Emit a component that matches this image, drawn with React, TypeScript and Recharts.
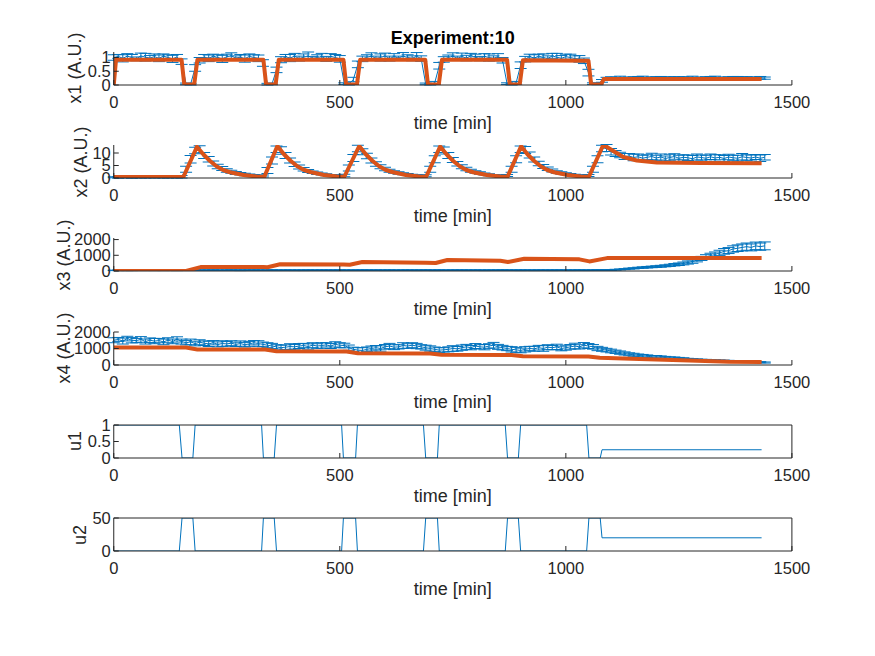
import React from 'react';
import { ComposedChart, Line, XAxis, YAxis, ErrorBar } from 'recharts';

const BLUE = '#0072BD';
const RED = '#D95319';
const AX = '#262626';
const FONT = '"Liberation Sans", Arial, Helvetica, sans-serif';

// measurement sample times [min]
const TIME = [
  0, 10, 20, 30, 40, 50, 60, 70, 80, 90,
  100, 110, 120, 130, 140, 150, 160, 170, 180, 190,
  200, 210, 220, 230, 240, 250, 260, 270, 280, 290,
  300, 310, 320, 330, 340, 350, 360, 370, 380, 390,
  400, 410, 420, 430, 440, 450, 460, 470, 480, 490,
  500, 510, 520, 530, 540, 550, 560, 570, 580, 590,
  600, 610, 620, 630, 640, 650, 660, 670, 680, 690,
  700, 710, 720, 730, 740, 750, 760, 770, 780, 790,
  800, 810, 820, 830, 840, 850, 860, 870, 880, 890,
  900, 910, 920, 930, 940, 950, 960, 970, 980, 990,
  1000, 1010, 1020, 1030, 1040, 1050, 1060, 1070, 1080, 1090,
  1100, 1110, 1120, 1130, 1140, 1150, 1160, 1170, 1180, 1190,
  1200, 1210, 1220, 1230, 1240, 1250, 1260, 1270, 1280, 1290,
  1300, 1310, 1320, 1330, 1340, 1350, 1360, 1370, 1380, 1390,
  1400, 1410, 1420, 1430, 1440,
];

const X1_MEAN = [
  1.00, 1.04, 0.97, 1.05, 1.00, 0.95, 1.06, 1.01, 0.98, 1.03,
  0.97, 1.05, 1.00, 0.95, 1.02, 0.85, 0.04, 0.03, 0.62, 0.90,
  1.02, 0.97, 1.05, 1.00, 0.95, 1.03, 1.06, 0.98, 1.01, 0.96,
  1.04, 1.00, 0.97, 0.80, 0.03, 0.04, 0.55, 0.92, 1.03, 0.98,
  1.05, 0.96, 1.01, 1.06, 0.97, 1.00, 1.03, 0.95, 1.04, 1.00,
  0.95, 0.05, 0.03, 0.20, 0.75, 0.95, 1.01, 1.05, 0.97, 1.00,
  1.06, 0.96, 1.03, 0.98, 1.05, 1.00, 0.97, 1.04, 0.96, 0.04,
  0.03, 0.08, 0.70, 0.93, 1.00, 1.05, 0.97, 1.03, 0.98, 1.06,
  1.01, 0.96, 1.04, 1.00, 0.97, 1.03, 0.90, 0.05, 0.03, 0.08,
  0.72, 0.94, 1.03, 0.98, 1.05, 1.00, 0.96, 1.06, 1.01, 0.97,
  1.03, 1.00, 0.96, 0.95, 0.88, 0.45, 0.05, 0.04, 0.15, 0.24,
  0.26, 0.25, 0.27, 0.24, 0.26, 0.25, 0.27, 0.26, 0.24, 0.26,
  0.25, 0.27, 0.26, 0.24, 0.26, 0.25, 0.27, 0.25, 0.26, 0.24,
  0.26, 0.25, 0.27, 0.26, 0.24, 0.26, 0.25, 0.27, 0.25, 0.26,
  0.25, 0.26, 0.24, 0.26, 0.25,
];
const X1_ERR = [
  0.10, 0.07, 0.13, 0.09, 0.11, 0.07, 0.10, 0.14, 0.09, 0.10,
  0.12, 0.08, 0.10, 0.13, 0.09, 0.10, 0.03, 0.03, 0.12, 0.10,
  0.09, 0.12, 0.07, 0.10, 0.13, 0.09, 0.11, 0.08, 0.10, 0.13,
  0.09, 0.10, 0.12, 0.12, 0.03, 0.03, 0.10, 0.11, 0.08, 0.13,
  0.10, 0.09, 0.12, 0.14, 0.07, 0.10, 0.12, 0.09, 0.10, 0.11,
  0.12, 0.03, 0.03, 0.08, 0.12, 0.10, 0.09, 0.12, 0.08, 0.13,
  0.10, 0.09, 0.11, 0.07, 0.13, 0.10, 0.09, 0.14, 0.10, 0.03,
  0.03, 0.05, 0.12, 0.10, 0.09, 0.12, 0.08, 0.13, 0.10, 0.09,
  0.11, 0.08, 0.10, 0.13, 0.09, 0.11, 0.10, 0.03, 0.03, 0.05,
  0.12, 0.10, 0.09, 0.12, 0.07, 0.13, 0.10, 0.09, 0.14, 0.10,
  0.09, 0.12, 0.10, 0.12, 0.10, 0.12, 0.03, 0.03, 0.05, 0.04,
  0.04, 0.03, 0.05, 0.04, 0.03, 0.05, 0.04, 0.06, 0.03, 0.04,
  0.05, 0.04, 0.03, 0.06, 0.04, 0.05, 0.03, 0.04, 0.06, 0.04,
  0.03, 0.05, 0.04, 0.06, 0.04, 0.03, 0.05, 0.04, 0.06, 0.04,
  0.05, 0.04, 0.03, 0.05, 0.04,
];

const X2_MEAN = [
  0.3, 0.2, 0.3, 0.3, 0.2, 0.3, 0.2, 0.3, 0.3, 0.2,
  0.3, 0.3, 0.2, 0.3, 0.3, 0.5, 3.5, 7.5, 11.0, 11.5,
  9.0, 7.5, 5.8, 4.6, 3.8, 3.0, 2.5, 2.0, 1.7, 1.4,
  1.2, 1.0, 0.9, 0.8, 3.0, 7.0, 11.5, 11.0, 9.0, 7.0,
  5.5, 4.4, 3.5, 2.8, 2.3, 1.9, 1.6, 1.3, 1.1, 1.0,
  0.9, 1.0, 4.0, 8.0, 11.8, 10.5, 8.8, 7.0, 5.6, 4.5,
  3.6, 2.9, 2.4, 2.0, 1.7, 1.4, 1.2, 1.0, 0.9, 0.9,
  3.5, 7.5, 11.5, 11.0, 9.0, 7.2, 5.7, 4.5, 3.6, 2.9,
  2.4, 2.0, 1.6, 1.3, 1.1, 1.0, 0.9, 1.0, 3.5, 7.5,
  11.5, 11.2, 9.2, 7.4, 5.8, 4.6, 3.7, 3.0, 2.4, 2.0,
  1.7, 1.4, 1.2, 1.0, 0.9, 1.0, 3.5, 7.5, 11.8, 12.0,
  10.5, 9.8, 9.2, 8.6, 8.8, 8.2, 8.5, 7.9, 8.3, 8.6,
  8.0, 8.4, 7.8, 8.2, 8.6, 7.9, 8.3, 8.1, 7.7, 8.4,
  8.2, 7.9, 8.5, 8.0, 8.3, 7.8, 8.4, 8.1, 7.9, 8.5,
  8.2, 8.0, 8.4, 7.9, 8.3,
];
const X2_ERR = [
  0.2, 0.3, 0.2, 0.2, 0.3, 0.2, 0.2, 0.3, 0.2, 0.2,
  0.2, 0.3, 0.2, 0.2, 0.3, 0.5, 1.2, 1.5, 1.3, 1.4,
  1.2, 1.1, 1.0, 0.9, 0.8, 0.7, 0.6, 0.6, 0.5, 0.5,
  0.4, 0.4, 0.3, 0.4, 1.2, 1.4, 1.3, 1.5, 1.2, 1.0,
  0.9, 0.8, 0.7, 0.6, 0.5, 0.5, 0.4, 0.4, 0.3, 0.3,
  0.3, 0.5, 1.2, 1.4, 1.3, 1.2, 1.1, 1.0, 0.9, 0.8,
  0.7, 0.6, 0.5, 0.5, 0.4, 0.4, 0.3, 0.3, 0.3, 0.4,
  1.2, 1.4, 1.3, 1.4, 1.2, 1.0, 0.9, 0.8, 0.7, 0.6,
  0.5, 0.5, 0.4, 0.4, 0.3, 0.3, 0.3, 0.4, 1.2, 1.4,
  1.3, 1.4, 1.2, 1.0, 0.9, 0.8, 0.7, 0.6, 0.5, 0.5,
  0.4, 0.4, 0.3, 0.3, 0.3, 0.4, 1.2, 1.4, 1.3, 1.4,
  1.3, 1.2, 1.1, 1.2, 1.0, 1.3, 1.1, 1.2, 1.0, 1.3,
  1.1, 1.2, 1.0, 1.3, 1.1, 1.2, 1.0, 1.1, 1.3, 1.2,
  1.0, 1.2, 1.1, 1.3, 1.0, 1.2, 1.1, 1.0, 1.2, 1.3,
  1.1, 1.2, 1.0, 1.3, 1.1,
];

const X3_MEAN = [
  40, 45, 50, 42, 48, 55, 45, 50, 52, 47,
  50, 48, 55, 52, 45, 50, 53, 48, 55, 50,
  52, 48, 55, 50, 47, 53, 56, 50, 48, 54,
  50, 55, 52, 48, 53, 57, 50, 49, 55, 52,
  48, 54, 50, 56, 52, 49, 55, 51, 53, 50,
  55, 52, 48, 54, 50, 57, 53, 49, 55, 52,
  50, 56, 52, 48, 54, 51, 55, 50, 53, 57,
  52, 49, 55, 51, 48, 54, 50, 56, 52, 49,
  55, 51, 48, 54, 50, 53, 57, 52, 49, 55,
  50, 54, 52, 48, 55, 51, 53, 50, 56, 52,
  54, 50, 53, 57, 52, 49, 55, 60, 58, 62,
  60, 80, 100, 120, 150, 170, 200, 220, 240, 260,
  280, 300, 330, 360, 400, 430, 480, 540, 600, 700,
  800, 900, 980, 1050, 1150, 1250, 1300, 1400, 1450, 1500,
  1550, 1500, 1600, 1550, 1600,
];
const X3_ERR = [
  15, 18, 20, 16, 22, 18, 15, 20, 17, 19,
  18, 20, 16, 22, 19, 17, 21, 18, 20, 16,
  20, 17, 22, 18, 16, 21, 19, 17, 22, 18,
  17, 21, 19, 16, 22, 18, 20, 17, 19, 21,
  19, 16, 22, 18, 20, 17, 21, 19, 16, 22,
  18, 20, 17, 21, 19, 16, 22, 18, 20, 17,
  21, 18, 20, 16, 22, 19, 17, 21, 18, 20,
  16, 22, 18, 20, 17, 21, 19, 16, 22, 18,
  20, 17, 21, 19, 16, 22, 18, 20, 17, 19,
  22, 18, 16, 21, 19, 17, 20, 22, 18, 16,
  19, 21, 18, 20, 22, 19, 21, 24, 23, 25,
  25, 28, 30, 32, 35, 38, 40, 45, 48, 50,
  55, 60, 62, 70, 75, 80, 90, 100, 110, 120,
  130, 140, 150, 160, 170, 180, 190, 200, 210, 220,
  230, 220, 240, 230, 250,
];

const X4_MEAN = [
  1500, 1550, 1450, 1600, 1500, 1480, 1550, 1420, 1500, 1450,
  1480, 1400, 1500, 1430, 1550, 1420, 1350, 1400, 1300, 1380,
  1320, 1280, 1350, 1250, 1300, 1280, 1320, 1250, 1300, 1230,
  1280, 1350, 1300, 1250, 1200, 1150, 1100, 1050, 1080, 1120,
  1100, 1150, 1180, 1120, 1200, 1150, 1180, 1220, 1150, 1250,
  1200, 1180, 1050, 950, 900, 880, 950, 1000, 1050, 1000,
  1100, 1150, 1080, 1100, 1180, 1150, 1200, 1150, 1100, 1050,
  1000, 950, 900, 920, 950, 1000, 980, 1050, 1100, 1050,
  1150, 1100, 1080, 1150, 1200, 1100, 1050, 1000, 950, 920,
  880, 950, 1000, 980, 1050, 1000, 1080, 1050, 1100, 1000,
  1050, 1100, 1150, 1100, 1200, 1150, 1100, 1000, 950, 900,
  850, 800, 750, 700, 650, 620, 580, 560, 530, 500,
  500, 480, 450, 430, 420, 400, 380, 350, 330, 320,
  300, 290, 280, 270, 260, 250, 240, 230, 220, 210,
  200, 190, 180, 170, 150,
];
const X4_ERR = [
  150, 120, 180, 140, 160, 130, 170, 150, 140, 160,
  130, 170, 150, 140, 160, 150, 130, 170, 140, 150,
  140, 160, 130, 150, 170, 140, 150, 130, 160, 140,
  150, 130, 170, 140, 150, 160, 130, 150, 140, 170,
  140, 150, 130, 160, 150, 140, 170, 130, 150, 160,
  150, 140, 160, 130, 150, 170, 140, 150, 130, 160,
  140, 160, 150, 130, 170, 140, 150, 160, 130, 150,
  160, 140, 150, 130, 150, 170, 140, 160, 150, 130,
  150, 130, 160, 140, 170, 150, 140, 130, 160, 150,
  140, 160, 130, 150, 140, 170, 150, 130, 160, 140,
  150, 140, 170, 130, 160, 150, 140, 130, 120, 110,
  110, 100, 100, 95, 90, 90, 85, 80, 80, 75,
  75, 70, 70, 65, 65, 60, 60, 55, 55, 50,
  50, 50, 48, 46, 45, 44, 42, 40, 40, 38,
  38, 36, 35, 34, 32,
];

// model fits (red)
const X1_FIT_T = [0, 5, 150, 156, 178, 185, 331, 337, 358, 365, 508, 514, 538, 545, 689, 695, 719, 726, 870, 876, 898, 905, 1050, 1056, 1078, 1084, 1433];
const X1_FIT_V = [0, 0.92, 0.92, 0.02, 0.02, 0.92, 0.92, 0.02, 0.02, 0.92, 0.92, 0.02, 0.02, 0.92, 0.92, 0.02, 0.02, 0.92, 0.92, 0.02, 0.02, 0.90, 0.88, 0.02, 0.02, 0.22, 0.22];

const X2_FIT_T = [
  0, 154, 184, 198, 213, 228, 242, 257, 287, 316, 333,
  362, 376, 391, 406, 420, 435, 465, 494, 510,
  543, 557, 572, 587, 601, 616, 646, 675, 691,
  722, 736, 751, 766, 780, 795, 825, 854, 871,
  901, 915, 930, 945, 959, 974, 1004, 1033, 1051,
  1083, 1105, 1127, 1157, 1201, 1300, 1433,
];
const X2_FIT_V = [
  0.4, 0.4, 12.5, 9.5, 6.8, 4.6, 3.2, 2.3, 1.2, 0.6, 0.5,
  12.8, 9.6, 6.9, 4.7, 3.3, 2.4, 1.2, 0.6, 0.5,
  12.8, 9.6, 6.9, 4.7, 3.3, 2.4, 1.2, 0.6, 0.5,
  12.6, 9.5, 6.8, 4.6, 3.2, 2.3, 1.2, 0.6, 0.5,
  12.7, 9.5, 6.8, 4.6, 3.2, 2.3, 1.2, 0.6, 0.5,
  13.3, 10.8, 8.4, 7.0, 6.2, 6.0, 5.9,
];

const X3_FIT_T = [0, 160, 192, 331, 340, 368, 508, 522, 550, 690, 712, 738, 855, 872, 908, 1030, 1052, 1091, 1433];
const X3_FIT_V = [0, 0, 250, 250, 240, 430, 420, 400, 570, 530, 510, 700, 650, 575, 780, 740, 610, 820, 820];

const X4_FIT_T = [0, 160, 185, 335, 360, 515, 540, 700, 725, 880, 905, 1050, 1075, 1163, 1273, 1361, 1433];
const X4_FIT_V = [1060, 1060, 940, 940, 830, 820, 710, 700, 620, 610, 535, 520, 440, 370, 280, 200, 180];

// inputs
const U_T = [0, 145, 151, 175, 180, 327, 331, 355, 360, 504, 508, 535, 539, 685, 690, 716, 720, 866, 871, 895, 900, 1046, 1051, 1076, 1080, 1433];
const U1_V = [1, 1, 0, 0, 1, 1, 0, 0, 1, 1, 0, 0, 1, 1, 0, 0, 1, 1, 0, 0, 1, 1, 0, 0, 0.25, 0.25];
const U2_V = [0, 0, 50, 50, 0, 0, 50, 50, 0, 0, 50, 50, 0, 0, 50, 50, 0, 0, 50, 50, 0, 0, 50, 50, 20, 20];

const X_TICKS = [0, 500, 1000, 1500];

const meas = (v: number[], e: number[]) => TIME.map((t, i) => ({ t, v: v[i], e: e[i] }));
const series = (ts: number[], v: number[]) => ts.map((t, i) => ({ t, v: v[i] }));

const LEFT = 113.75;
const RIGHT_EDGE = 791.9;
const PLOT_H = 33;
const PAD_TOP = 10;
const BOTTOM_H = 40;
const Y_AXIS_W = 60;

type PanelProps = {
  top: number;
  yDomain: [number, number];
  yTicks: number[];
  ylabel: string;
  ylabelX: number;
  boxed?: boolean;
  measured?: { t: number; v: number; e: number }[];
  fit?: { t: number; v: number }[];
  input?: { t: number; v: number }[];
};

const tickStyle = { fill: AX, fontSize: 16.5, fontFamily: FONT };

function Panel({ top, yDomain, yTicks, ylabel, ylabelX, boxed, measured, fit, input }: PanelProps) {
  const rightMargin = 875 - RIGHT_EDGE - (boxed ? 1 : 0);
  return (
    <>
      <div style={{ position: 'absolute', left: 0, top: top - PAD_TOP }}>
        <ComposedChart
          width={875}
          height={PAD_TOP + PLOT_H + BOTTOM_H}
          margin={{ top: boxed ? PAD_TOP - 1 : PAD_TOP, right: rightMargin, bottom: 0, left: LEFT - Y_AXIS_W }}
        >
          <XAxis
            type="number"
            dataKey="t"
            domain={[0, 1500]}
            ticks={X_TICKS}
            interval={0}
            allowDataOverflow
            height={BOTTOM_H}
            tickSize={-5}
            tickMargin={16.4}
            stroke={AX}
            tick={tickStyle}
            axisLine={{ stroke: AX }}
            tickLine={{ stroke: AX }}
          />
          <YAxis
            type="number"
            domain={yDomain}
            ticks={yTicks}
            interval={0}
            allowDataOverflow
            width={Y_AXIS_W}
            tickSize={-5}
            tickMargin={8}
            stroke={AX}
            tick={tickStyle}
            axisLine={{ stroke: AX }}
            tickLine={{ stroke: AX }}
          />
          {boxed && (
            <XAxis
              xAxisId="top"
              orientation="top"
              type="number"
              dataKey="t"
              domain={[0, 1500]}
              ticks={X_TICKS}
              interval={0}
              height={1}
              tickSize={-5}
              tick={false}
              stroke={AX}
              axisLine={{ stroke: AX }}
              tickLine={{ stroke: AX }}
            />
          )}
          {boxed && (
            <YAxis
              yAxisId="right"
              orientation="right"
              type="number"
              domain={yDomain}
              ticks={yTicks}
              interval={0}
              width={1}
              tickSize={-5}
              tick={false}
              stroke={AX}
              axisLine={{ stroke: AX }}
              tickLine={{ stroke: AX }}
            />
          )}
          {measured && (
            <Line
              data={measured}
              dataKey="v"
              stroke={BLUE}
              strokeWidth={1}
              dot={false}
              isAnimationActive={false}
            >
              <ErrorBar dataKey="e" width={6} stroke={BLUE} strokeWidth={1} direction="y" isAnimationActive={false} />
            </Line>
          )}
          {fit && (
            <Line
              data={fit}
              dataKey="v"
              stroke={RED}
              strokeWidth={4}
              strokeLinejoin="round"
              dot={false}
              isAnimationActive={false}
            />
          )}
          {input && (
            <Line
              data={input}
              dataKey="v"
              stroke={BLUE}
              strokeWidth={1}
              dot={false}
              isAnimationActive={false}
            />
          )}
        </ComposedChart>
      </div>
      <div
        style={{
          position: 'absolute',
          left: ylabelX,
          top: top + PLOT_H / 2,
          transform: 'translate(-50%, -50%) rotate(-90deg)',
          fontFamily: FONT,
          fontSize: 18,
          lineHeight: 1,
          color: AX,
          whiteSpace: 'nowrap',
        }}
      >
        {ylabel}
      </div>
      <div
        style={{
          position: 'absolute',
          left: (LEFT + RIGHT_EDGE) / 2,
          top: top + PLOT_H + 37.7,
          transform: 'translate(-50%, -50%)',
          fontFamily: FONT,
          fontSize: 18,
          lineHeight: 1,
          color: AX,
          whiteSpace: 'nowrap',
        }}
      >
        time [min]
      </div>
    </>
  );
}

const ROW_TOP = (k: number) => 51.8 + 93.25 * k;

export default function App() {
  return (
    <div style={{ position: 'absolute', left: 0, top: 0, width: 875, height: 656, background: '#fff', overflow: 'hidden' }}>
      <div
        style={{
          position: 'absolute',
          left: (LEFT + RIGHT_EDGE) / 2,
          top: 38,
          transform: 'translate(-50%, -50%)',
          fontFamily: FONT,
          fontSize: 18,
          fontWeight: 'bold',
          lineHeight: 1,
          color: '#000',
          whiteSpace: 'nowrap',
        }}
      >
        Experiment:10
      </div>
      <Panel top={ROW_TOP(0)} yDomain={[0, 1.2]} yTicks={[0, 0.5, 1]} ylabel="x1 (A.U.)" ylabelX={75}
        measured={meas(X1_MEAN, X1_ERR)} fit={series(X1_FIT_T, X1_FIT_V)} />
      <Panel top={ROW_TOP(1)} yDomain={[0, 13.2]} yTicks={[0, 5, 10]} ylabel="x2 (A.U.)" ylabelX={81}
        measured={meas(X2_MEAN, X2_ERR)} fit={series(X2_FIT_T, X2_FIT_V)} />
      <Panel top={ROW_TOP(2)} yDomain={[0, 2100]} yTicks={[0, 1000, 2000]} ylabel="x3 (A.U.)" ylabelX={64}
        measured={meas(X3_MEAN, X3_ERR)} fit={series(X3_FIT_T, X3_FIT_V)} />
      <Panel top={ROW_TOP(3)} yDomain={[0, 2000]} yTicks={[0, 1000, 2000]} ylabel="x4 (A.U.)" ylabelX={64}
        measured={meas(X4_MEAN, X4_ERR)} fit={series(X4_FIT_T, X4_FIT_V)} />
      <Panel top={ROW_TOP(4)} yDomain={[0, 1]} yTicks={[0, 0.5, 1]} ylabel="u1" ylabelX={75} boxed
        input={series(U_T, U1_V)} />
      <Panel top={ROW_TOP(5)} yDomain={[0, 50]} yTicks={[0, 50]} ylabel="u2" ylabelX={80} boxed
        input={series(U_T, U2_V)} />
    </div>
  );
}
